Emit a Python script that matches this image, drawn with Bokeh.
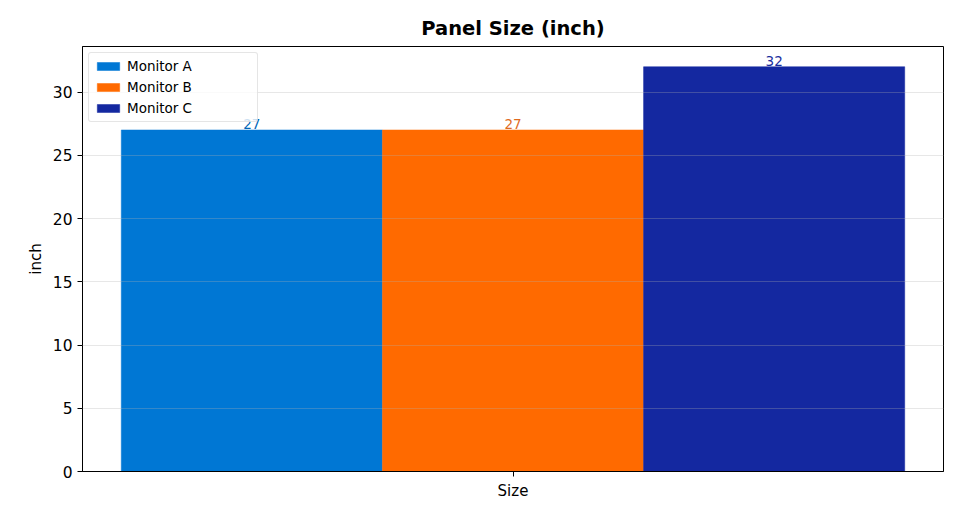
from bokeh.plotting import figure
from bokeh.models import ColumnDataSource, FactorRange, Range1d, Legend, LegendItem, SingleIntervalTicker
from bokeh.transform import dodge
from bokeh.core.properties import value
from bokeh.embed import file_html
from bokeh.resources import INLINE

# ---- data ----
categories = ["Size"]
series_names = ["Monitor A", "Monitor B", "Monitor C"]
series_values = [27, 27, 32]
series_colors = ["#0077D4", "#FF6A00", "#1428A0"]
label_colors = ["#0066B8", "#E06A1E", "#1A2E9E"]

FONT = "DejaVu Sans"

p = figure(
    width=954, height=512,
    x_range=FactorRange(*categories, range_padding=0.0),
    y_range=Range1d(0, 33.6),
    output_backend="svg", toolbar_location=None,
    min_border_left=82, min_border_right=11, min_border_top=46, min_border_bottom=41,
)
p.title.text = "Panel Size (inch)"
p.title.align = "center"
p.title.text_font = FONT
p.title.text_font_size = "19.5px"
p.title.text_font_style = "bold"
p.title.text_color = "black"
p.title.offset = 0
p.title.standoff = 14

bar_w = 0.3033
offsets = [-bar_w, 0.0, bar_w]
items = []
for name, val, col, lcol, off in zip(series_names, series_values, series_colors, label_colors, offsets):
    src = ColumnDataSource(dict(x=categories, top=[val], lab=[str(val)]))
    r = p.vbar(x=dodge("x", off, range=p.x_range), top="top", width=bar_w, source=src,
               fill_color=col, line_color=col, line_width=0.5)
    p.text(x=dodge("x", off, range=p.x_range), y="top", text="lab", source=src,
           text_color=lcol, text_font=value(FONT), text_font_size="13.5px",
           text_align="center", text_baseline="bottom", y_offset=-1)
    items.append(LegendItem(label=name, renderers=[r]))

legend = Legend(items=items, location="top_left", label_width=125,
                label_text_font=FONT, label_text_font_size="13.5px", label_text_color="black",
                glyph_width=28, glyph_height=10, label_height=12, spacing=5,
                padding=5, margin=6, border_line_color="#cccccc", border_line_width=1,
                border_radius=3, background_fill_alpha=0.8)
p.add_layout(legend, "center")

p.outline_line_color = "black"
p.outline_line_width = 1
p.xgrid.grid_line_color = None
p.ygrid.grid_line_color = "#b0b0b0"
p.ygrid.grid_line_alpha = 0.3
p.ygrid.level = "overlay"

p.yaxis.ticker = SingleIntervalTicker(interval=5)
p.yaxis.axis_label = "inch"
p.yaxis.axis_label_text_font = FONT
p.yaxis.axis_label_text_font_size = "15px"
p.yaxis.axis_label_text_font_style = "normal"
p.yaxis.axis_label_text_color = "black"
p.yaxis.major_label_text_font = FONT
p.yaxis.major_label_text_font_size = "15.5px"
p.yaxis.major_label_text_color = "black"
p.yaxis.minor_tick_line_color = None
p.yaxis.major_tick_out = 5
p.yaxis.major_tick_in = 0
p.yaxis.axis_line_color = "black"
p.yaxis.major_tick_line_color = "black"

p.xaxis.major_label_text_font = FONT
p.xaxis.major_label_text_font_size = "15px"
p.xaxis.major_label_text_color = "black"
p.xaxis.major_tick_out = 5
p.xaxis.major_tick_in = 0
p.xaxis.axis_line_color = "black"
p.xaxis.major_tick_line_color = "black"

open("out.html", "w").write(file_html(p, INLINE))
